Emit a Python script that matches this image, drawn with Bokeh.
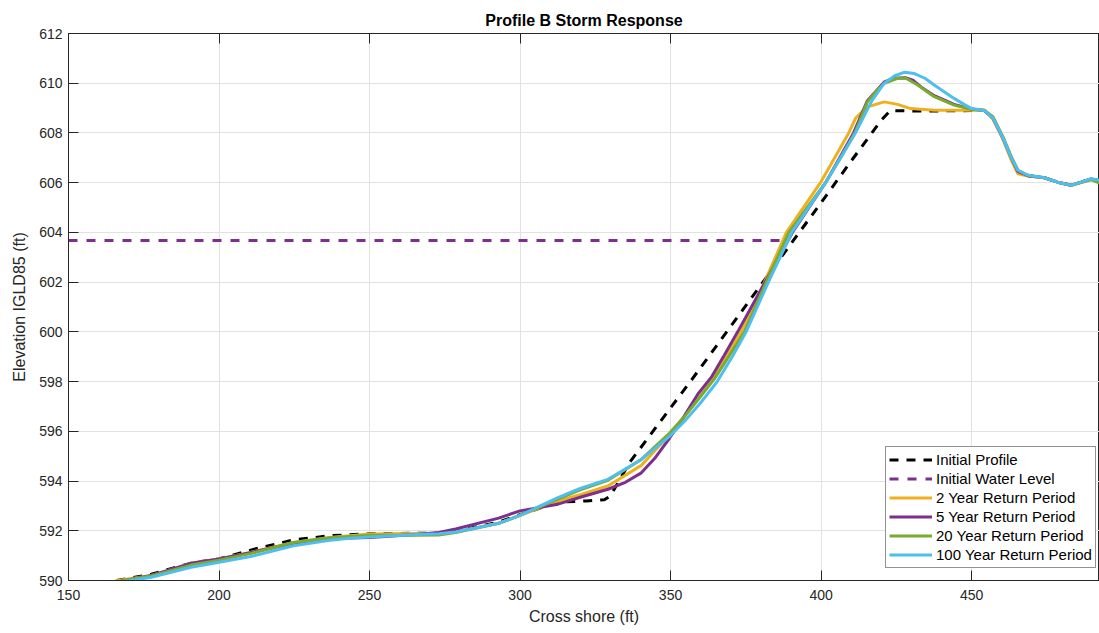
from bokeh.plotting import figure
from bokeh.models import (LinearAxis, Range1d, Legend, LegendItem,
                          CustomJSTickFormatter, FixedTicker)
from bokeh.embed import file_html
from bokeh.resources import INLINE

# ---------------- data ----------------
title_text = "Profile B Storm Response"
x_label = "Cross shore (ft)"
y_label = "Elevation IGLD85 (ft)"
x_ticks = [150, 200, 250, 300, 350, 400, 450]
y_ticks = [590, 592, 594, 596, 598, 600, 602, 604, 606, 608, 610, 612]

water_level_x = [150, 388]
water_level_y = [603.67, 603.67]

initial_x = [166, 177.5, 190.7, 200, 212, 224.7, 236.8, 250, 265.4, 273, 278.6, 292.9, 300,
             312.6, 322, 328, 330, 336.4, 357, 380.7, 400.2, 410, 419.9, 423, 432, 450, 454.3,
             457.1, 460.4, 463.2, 465.4, 468.7, 474.2, 478.6, 483.1, 486.4, 489.7, 492.7]
initial_y = [590.0, 590.25, 590.7, 590.87, 591.27, 591.63, 591.8, 591.88, 591.9, 591.9, 591.97,
             592.35, 592.65, 593.15, 593.2, 593.25, 593.4, 594.75, 598.07, 602.0, 605.23, 606.87,
             608.5, 608.9, 608.88, 608.9, 608.9, 608.6, 607.8, 607.0, 606.45, 606.28, 606.2,
             606.02, 605.9, 606.02, 606.15, 606.08]

yr2_x = [165.5, 177.5, 190.7, 200, 210.4, 224.7, 236.8, 243.4, 250, 265.4, 273, 278.6, 292.9,
         300, 312.6, 320, 329.2, 340.3, 349.7, 355, 359.5, 364, 368.5, 373.4, 381.2, 388.5,
         399.8, 405, 409.2, 411.5, 415.4, 421, 425.4, 429.8, 437.6, 449.8, 454.3, 457.1, 460.4,
         463.2, 465.4, 468.7, 474.2, 478.6, 483.1, 486.4, 489.7, 492.7]
yr2_y = [589.98, 590.2, 590.69, 590.87, 591.13, 591.53, 591.73, 591.8, 591.87, 591.89, 591.88,
         591.95, 592.3, 592.62, 593.2, 593.45, 593.8, 594.63, 595.87, 596.65, 597.35, 598.1,
         599.0, 600.0, 602.0, 604.0, 606.0, 607.1, 608.0, 608.6, 609.05, 609.25, 609.15,
         608.98, 608.91, 608.91, 608.92, 608.55, 607.75, 606.9, 606.36, 606.27, 606.2, 606.02,
         605.9, 606.02, 606.15, 606.08]

yr5_x = [167.5, 177.5, 190.7, 200, 210.4, 224.7, 236.8, 243.4, 250, 265.4, 273, 278.6, 292.9,
         300, 312.6, 320, 329.2, 335, 340.3, 345, 349.7, 354.5, 359.1, 363.7, 367.8, 372.3,
         381.4, 390.5, 401.5, 406.2, 410.8, 415.4, 421, 424.3, 428, 430.5, 433.2, 437.6, 444.2,
         450, 454.3, 457.1, 460.4, 463.2, 465.4, 468.7, 474.2, 478.6, 483.1, 486.4, 489.7, 492.7]
yr5_y = [589.97, 590.2, 590.69, 590.87, 591.12, 591.5, 591.68, 591.71, 591.73, 591.85, 591.93,
         592.07, 592.51, 592.8, 593.07, 593.35, 593.67, 593.95, 594.33, 594.95, 595.73, 596.6,
         597.5, 598.2, 599.05, 600.0, 602.0, 604.0, 606.0, 607.0, 608.0, 609.3, 610.05, 610.2,
         610.22, 610.12, 609.85, 609.5, 609.15, 608.96, 608.9, 608.6, 607.8, 607.0, 606.45,
         606.28, 606.2, 606.02, 605.9, 606.02, 606.15, 606.05]

yr20_x = [167, 177.5, 190.7, 200, 210.4, 224.7, 236.8, 243.4, 250, 265.4, 273, 278.6, 292.9,
          300, 312.6, 320, 329.2, 340.3, 349.7, 355, 359.5, 364.5, 369.3, 374.5, 381.8, 389.3,
          401.5, 406.5, 411.2, 415.4, 418.5, 421, 425.4, 428.2, 432.1, 437.6, 444.2, 450, 454.3,
          457.1, 460.4, 463.2, 465.4, 468.7, 474.2, 478.6, 483.1, 486.4, 489.7, 492.7]
yr20_y = [589.97, 590.18, 590.62, 590.82, 591.08, 591.53, 591.72, 591.77, 591.82, 591.82,
          591.83, 591.93, 592.3, 592.62, 593.27, 593.65, 594.03, 594.87, 595.93, 596.65, 597.33,
          598.1, 599.0, 600.0, 602.0, 604.0, 606.0, 607.0, 608.0, 609.25, 609.7, 610.0, 610.2,
          610.2, 609.93, 609.46, 609.12, 608.95, 608.9, 608.65, 607.85, 607.05, 606.5, 606.3,
          606.2, 606.02, 605.88, 606.0, 606.12, 605.97]

yr100_x = [169, 177.5, 190.7, 200, 210.4, 224.7, 236.8, 243.4, 250, 265.4, 273, 278.6, 292.9,
           300, 312.6, 320, 329.2, 340.3, 349.7, 355, 360, 365.5, 370.5, 375.1, 382.5, 390.3,
           401.5, 406.5, 411.4, 416.9, 421, 424.5, 427.6, 431, 434.5, 437.6, 441, 444.2,
           447.5, 450, 454.3, 457.1, 460.4, 463.2, 465.4, 468.7, 474.2, 478.6, 483.1, 486.4,
           489.7, 492.7]
yr100_y = [589.97, 590.13, 590.53, 590.73, 590.96, 591.4, 591.62, 591.7, 591.75, 591.85, 591.88,
           591.95, 592.3, 592.62, 593.33, 593.7, 594.07, 594.87, 595.8, 596.45, 597.15, 598.0,
           599.0, 600.0, 602.0, 604.0, 606.0, 607.0, 608.0, 609.3, 610.0, 610.3, 610.44,
           610.39, 610.2, 609.93, 609.65, 609.39, 609.15, 608.98, 608.9, 608.6, 607.8, 607.0,
           606.5, 606.3, 606.2, 606.02, 605.9, 606.02, 606.16, 606.1]

series_names = ["Initial Profile", "Initial Water Level", "2 Year Return Period",
                "5 Year Return Period", "20 Year Return Period", "100 Year Return Period"]

# ---------------- styling ----------------
FONT = "Liberation Sans"
AX = "#262626"

p = figure(width=1099, height=633, output_backend="svg", toolbar_location=None,
           x_range=Range1d(150, 492.5), y_range=Range1d(590, 612),
           min_border_left=68, min_border_right=0, min_border_top=33, min_border_bottom=53,
           background_fill_color="white", border_fill_color="white")
p.outline_line_color = AX
p.outline_line_width = 1

p.title.text = title_text
p.title.align = "center"
p.title.text_font = FONT
p.title.text_font_size = "16px"
p.title.text_font_style = "bold"
p.title.text_color = "#000000"
p.title.standoff = 9

for ax in (p.xaxis[0], p.yaxis[0]):
    ax.axis_line_color = AX
    ax.major_tick_line_color = AX
    ax.major_tick_in = 10
    ax.major_tick_out = 0
    ax.minor_tick_line_color = None
    ax.major_label_text_font = FONT
    ax.major_label_text_font_size = "14px"
    ax.major_label_text_color = AX
    ax.axis_label_text_font = FONT
    ax.axis_label_text_font_size = "16px"
    ax.axis_label_text_font_style = "normal"
    ax.axis_label_text_color = AX

p.xaxis[0].ticker = FixedTicker(ticks=x_ticks)
p.yaxis[0].ticker = FixedTicker(ticks=y_ticks)
p.xaxis[0].axis_label = x_label
p.yaxis[0].axis_label = y_label
p.xaxis[0].major_label_standoff = 9
p.xaxis[0].axis_label_standoff = 5
p.yaxis[0].major_label_standoff = 6
p.yaxis[0].axis_label_standoff = 8

top_axis = LinearAxis(ticker=FixedTicker(ticks=x_ticks),
                      formatter=CustomJSTickFormatter(code="return ''"),
                      axis_line_color=AX, major_tick_line_color=AX,
                      major_tick_in=10, major_tick_out=0, minor_tick_line_color=None,
                      major_label_standoff=0)
p.add_layout(top_axis, "above")

p.xgrid.ticker = FixedTicker(ticks=x_ticks)
p.ygrid.ticker = FixedTicker(ticks=y_ticks)
p.xgrid.grid_line_color = "#e2e2e2"
p.ygrid.grid_line_color = "#e2e2e2"

LW = 3
r_init = p.line(initial_x, initial_y, line_color="black", line_width=LW, line_dash="9 8")
r_wl = p.line(water_level_x, water_level_y, line_color="#7E2F8E", line_width=LW, line_dash="9 9")
r2 = p.line(yr2_x, yr2_y, line_color="#EDB120", line_width=LW)
r5 = p.line(yr5_x, yr5_y, line_color="#7E2F8E", line_width=LW)
r20 = p.line(yr20_x, yr20_y, line_color="#77AC30", line_width=LW)
r100 = p.line(yr100_x, yr100_y, line_color="#4DBEEE", line_width=LW)

renderers = [r_init, r_wl, r2, r5, r20, r100]
legend = Legend(items=[LegendItem(label=n, renderers=[r]) for n, r in zip(series_names, renderers)],
                location=(817, 12))
legend.label_text_font = FONT
legend.label_text_font_size = "15px"
legend.label_text_color = "#000000"
legend.label_height = 19
legend.glyph_height = 19
legend.glyph_width = 43
legend.spacing = 0
legend.padding = 3
legend.margin = 0
legend.label_standoff = 4
legend.border_line_color = AX
legend.border_line_width = 1
legend.background_fill_alpha = 1
p.add_layout(legend)

open("out.html", "w").write(file_html(p, INLINE))
